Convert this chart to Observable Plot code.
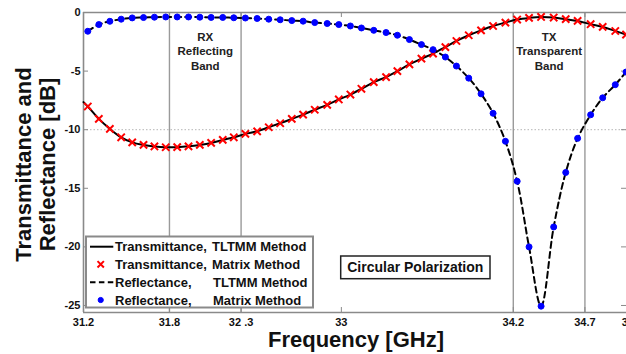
<!DOCTYPE html>
<html><head><meta charset="utf-8">
<script src="https://cdn.jsdelivr.net/npm/d3@7"></script>
<script src="https://cdn.jsdelivr.net/npm/@observablehq/plot@0.6"></script>
<style>
html,body{margin:0;padding:0;background:#fff;overflow:hidden}
#chart{width:626px;height:354px}
</style></head><body><div id="chart"></div>
<script>
// ---- data ----
const freq = [31.230, 31.307, 31.384, 31.463, 31.540, 31.619, 31.695, 31.774, 31.854, 31.933,
  32.012, 32.091, 32.172, 32.249, 32.330, 32.412, 32.493, 32.573, 32.654, 32.733,
  32.814, 32.901, 32.982, 33.063, 33.140, 33.226, 33.312, 33.391, 33.475, 33.559,
  33.640, 33.726, 33.803, 33.889, 33.975, 34.059, 34.145, 34.227, 34.310, 34.394,
  34.482, 34.566, 34.649, 34.740, 34.824, 34.912, 34.987];
const transMatrix = [-8.02, -9.08, -9.93, -10.65, -11.08, -11.30, -11.43, -11.50, -11.49, -11.42,
  -11.30, -11.13, -10.87, -10.65, -10.36, -10.14, -9.79, -9.45, -9.08, -8.71,
  -8.30, -7.88, -7.42, -7.00, -6.51, -5.94, -5.51, -5.00, -4.43, -3.94,
  -3.51, -2.95, -2.43, -1.94, -1.52, -1.15, -0.86, -0.60, -0.46, -0.38,
  -0.43, -0.57, -0.72, -1.00, -1.23, -1.58, -1.88];
const reflMatrix = [-1.60, -1.03, -0.75, -0.57, -0.46, -0.43, -0.40, -0.38, -0.38, -0.38,
  -0.40, -0.42, -0.42, -0.45, -0.47, -0.51, -0.57, -0.62, -0.69, -0.74,
  -0.86, -0.94, -1.03, -1.15, -1.32, -1.52, -1.71, -1.94, -2.31, -2.74,
  -3.17, -3.80, -4.57, -5.60, -6.94, -8.60, -10.99, -14.40, -20.00, -25.06,
  -18.30, -13.65, -10.74, -8.73, -7.28, -6.16, -5.08];
// TLTMM curve starts at the left edge of the axes
const tltmmStartFreq = [31.2];
const tltmmStartTrans = [-7.65];

const xDomain = [31.2, 35];
const yDomain = [-25.6, 0];
const xTicks = [31.2, 31.8, 32.3, 33, 34.2, 34.7, 35];
const xTickLabels = ["31.2", "31.8", "32 .3", "33", "34.2", "34.7", "35"];
const yTicks = [0, -5, -10, -15, -20, -25];
const yTickLabels = ["0", "-5", "-10", "-15", "-20", "-25"];
const bandEdges = [31.8, 32.3, 34.2, 34.7];
const bandLabels = ["RX\nReflecting\nBand", "TX\nTransparent\nBand"];
const xLabel = "Frequency [GHz]";
const yLabel = "Transmittance and\nReflectance [dB]";
const legendLabels = [["Transmittance,", "TLTMM Method"], ["Transmittance,", "Matrix Method"],
                      ["Reflectance,", "TLTMM Method"], ["Reflectance,", "Matrix Method"]];
const noteLabel = "Circular Polarization";

// ---- tables built from the arrays ----
const tMarkers = freq.map((f, i) => ({f, v: transMatrix[i]}));
const rMarkers = freq.map((f, i) => ({f, v: reflMatrix[i]}));
const tLine = tltmmStartFreq.map((f, i) => ({f, v: tltmmStartTrans[i]})).concat(tMarkers);
const rLine = rMarkers;
const bands = bandLabels.map((t, i) => ({x: (bandEdges[2 * i] + bandEdges[2 * i + 1]) / 2, t}));

const FONT = "'Liberation Sans', Arial, Helvetica, sans-serif";
const W = 626, H = 354, mL = 83, mT = 12, mB = 42;
const frameStroke = "#8a8a8a";

const chart = Plot.plot({
  width: W, height: H,
  marginLeft: mL, marginRight: 0, marginTop: mT, marginBottom: mB,
  style: {fontFamily: FONT, fontSize: "11px", background: "white"},
  x: {domain: xDomain, range: [mL, 627.4], axis: null},
  y: {domain: yDomain, axis: null},
  marks: [
    Plot.ruleY([-10], {stroke: "#b5b5b5", strokeWidth: 1, strokeDasharray: "1.5,2"}),
    Plot.ruleX(bandEdges, {stroke: "#9a9a9a", strokeWidth: 1.4}),
    Plot.ruleX([xDomain[0]], {stroke: frameStroke, strokeWidth: 1.6}),
    Plot.ruleY(yDomain, {stroke: frameStroke, strokeWidth: 1.6}),
    Plot.tickX(xTicks, {x: d => d, insetTop: 295, stroke: frameStroke}),
    Plot.tickX(xTicks, {x: d => d, insetBottom: 295, stroke: frameStroke}),
    Plot.tickY(yTicks, {y: d => d, insetRight: 538, stroke: frameStroke}),
    Plot.tickY(yTicks, {y: d => d, insetLeft: 538, stroke: frameStroke}),
    Plot.axisX({ticks: xTicks, tickFormat: d => xTickLabels[xTicks.indexOf(d)], tickSize: 0, tickPadding: 6,
                fontWeight: "bold", fill: "#111", label: null}),
    Plot.axisY({ticks: yTicks, tickFormat: d => yTickLabels[yTicks.indexOf(d)], tickSize: 0, tickPadding: 3,
                fontWeight: "bold", fill: "#111", label: null}),
    Plot.line(tLine, {x: "f", y: "v", curve: "catmull-rom", stroke: "black", strokeWidth: 2}),
    Plot.dot(tMarkers, {x: "f", y: "v", symbol: "times", r: 3.4, stroke: "#ff0000", strokeWidth: 2}),
    Plot.line(rLine, {x: "f", y: "v", curve: "catmull-rom", stroke: "black", strokeWidth: 2, strokeDasharray: "6,4"}),
    Plot.dot(rMarkers, {x: "f", y: "v", r: 3, fill: "#0000ff", stroke: "#0000ff", strokeWidth: 1}),
    Plot.text(bands, {x: "x", text: "t", frameAnchor: "top", lineAnchor: "top", dy: 18.6,
                      fontSize: 11.5, fontWeight: "bold", lineHeight: 1.235, fill: "#222"}),
    Plot.text([yLabel], {frameAnchor: "left", rotate: -90, dx: -48.5, dy: 2, fontSize: 22,
                         fontWeight: "bold", lineHeight: 1.136, lineAnchor: "middle", textAnchor: "middle", fill: "#111"}),
    Plot.text([xLabel], {frameAnchor: "bottom", dx: 1, dy: 27.7, fontSize: 22, fontWeight: "bold",
                         lineAnchor: "middle", fill: "#111"})
  ]
});
document.getElementById("chart").appendChild(chart);

// ---- legend and annotation box ----
const svg = d3.select(chart);
const lg = svg.append("g").attr("font-family", FONT).attr("font-weight", "bold").attr("font-size", 13)
  .attr("fill", "#111").attr("text-anchor", "start");
lg.append("rect").attr("x", 86).attr("y", 236.5).attr("width", 227).attr("height", 71)
  .attr("fill", "white").attr("stroke", "#8a8a8a").attr("stroke-width", 2);
const rowY = [246.7, 264.3, 282.3, 300];
const secondX = [212, 212, 213, 213];
// samples
lg.append("line").attr("x1", 90).attr("x2", 113.3).attr("y1", rowY[0]).attr("y2", rowY[0])
  .attr("stroke", "black").attr("stroke-width", 2);
lg.append("path").attr("d", d3.symbol(d3.symbolTimes, Math.PI * 3 * 3)())
  .attr("transform", `translate(100.7,${rowY[1]})`).attr("fill", "none").attr("stroke", "#ff0000").attr("stroke-width", 2);
lg.append("line").attr("x1", 90).attr("x2", 113.3).attr("y1", rowY[2]).attr("y2", rowY[2])
  .attr("stroke", "black").attr("stroke-width", 2).attr("stroke-dasharray", "5.5,3.4");
lg.append("circle").attr("cx", 100.7).attr("cy", rowY[3]).attr("r", 2.6)
  .attr("fill", "#0000ff").attr("stroke", "#0000ff");
legendLabels.forEach((parts, i) => {
  lg.append("text").attr("x", 115).attr("y", rowY[i] + 4.65).attr("text-anchor", "start").text(parts[0]);
  lg.append("text").attr("x", secondX[i]).attr("y", rowY[i] + 4.65).attr("text-anchor", "start").text(parts[1]);
});

const nb = svg.append("g").attr("font-family", FONT);
nb.append("rect").attr("x", 340.7).attr("y", 256).attr("width", 149.3).attr("height", 22.7)
  .attr("fill", "white").attr("stroke", "#222").attr("stroke-width", 1.5);
nb.append("text").attr("x", 415.3).attr("y", 272).attr("text-anchor", "middle")
  .attr("font-size", 14).attr("font-weight", "bold").attr("fill", "#111").text(noteLabel);
</script>
</body></html>
